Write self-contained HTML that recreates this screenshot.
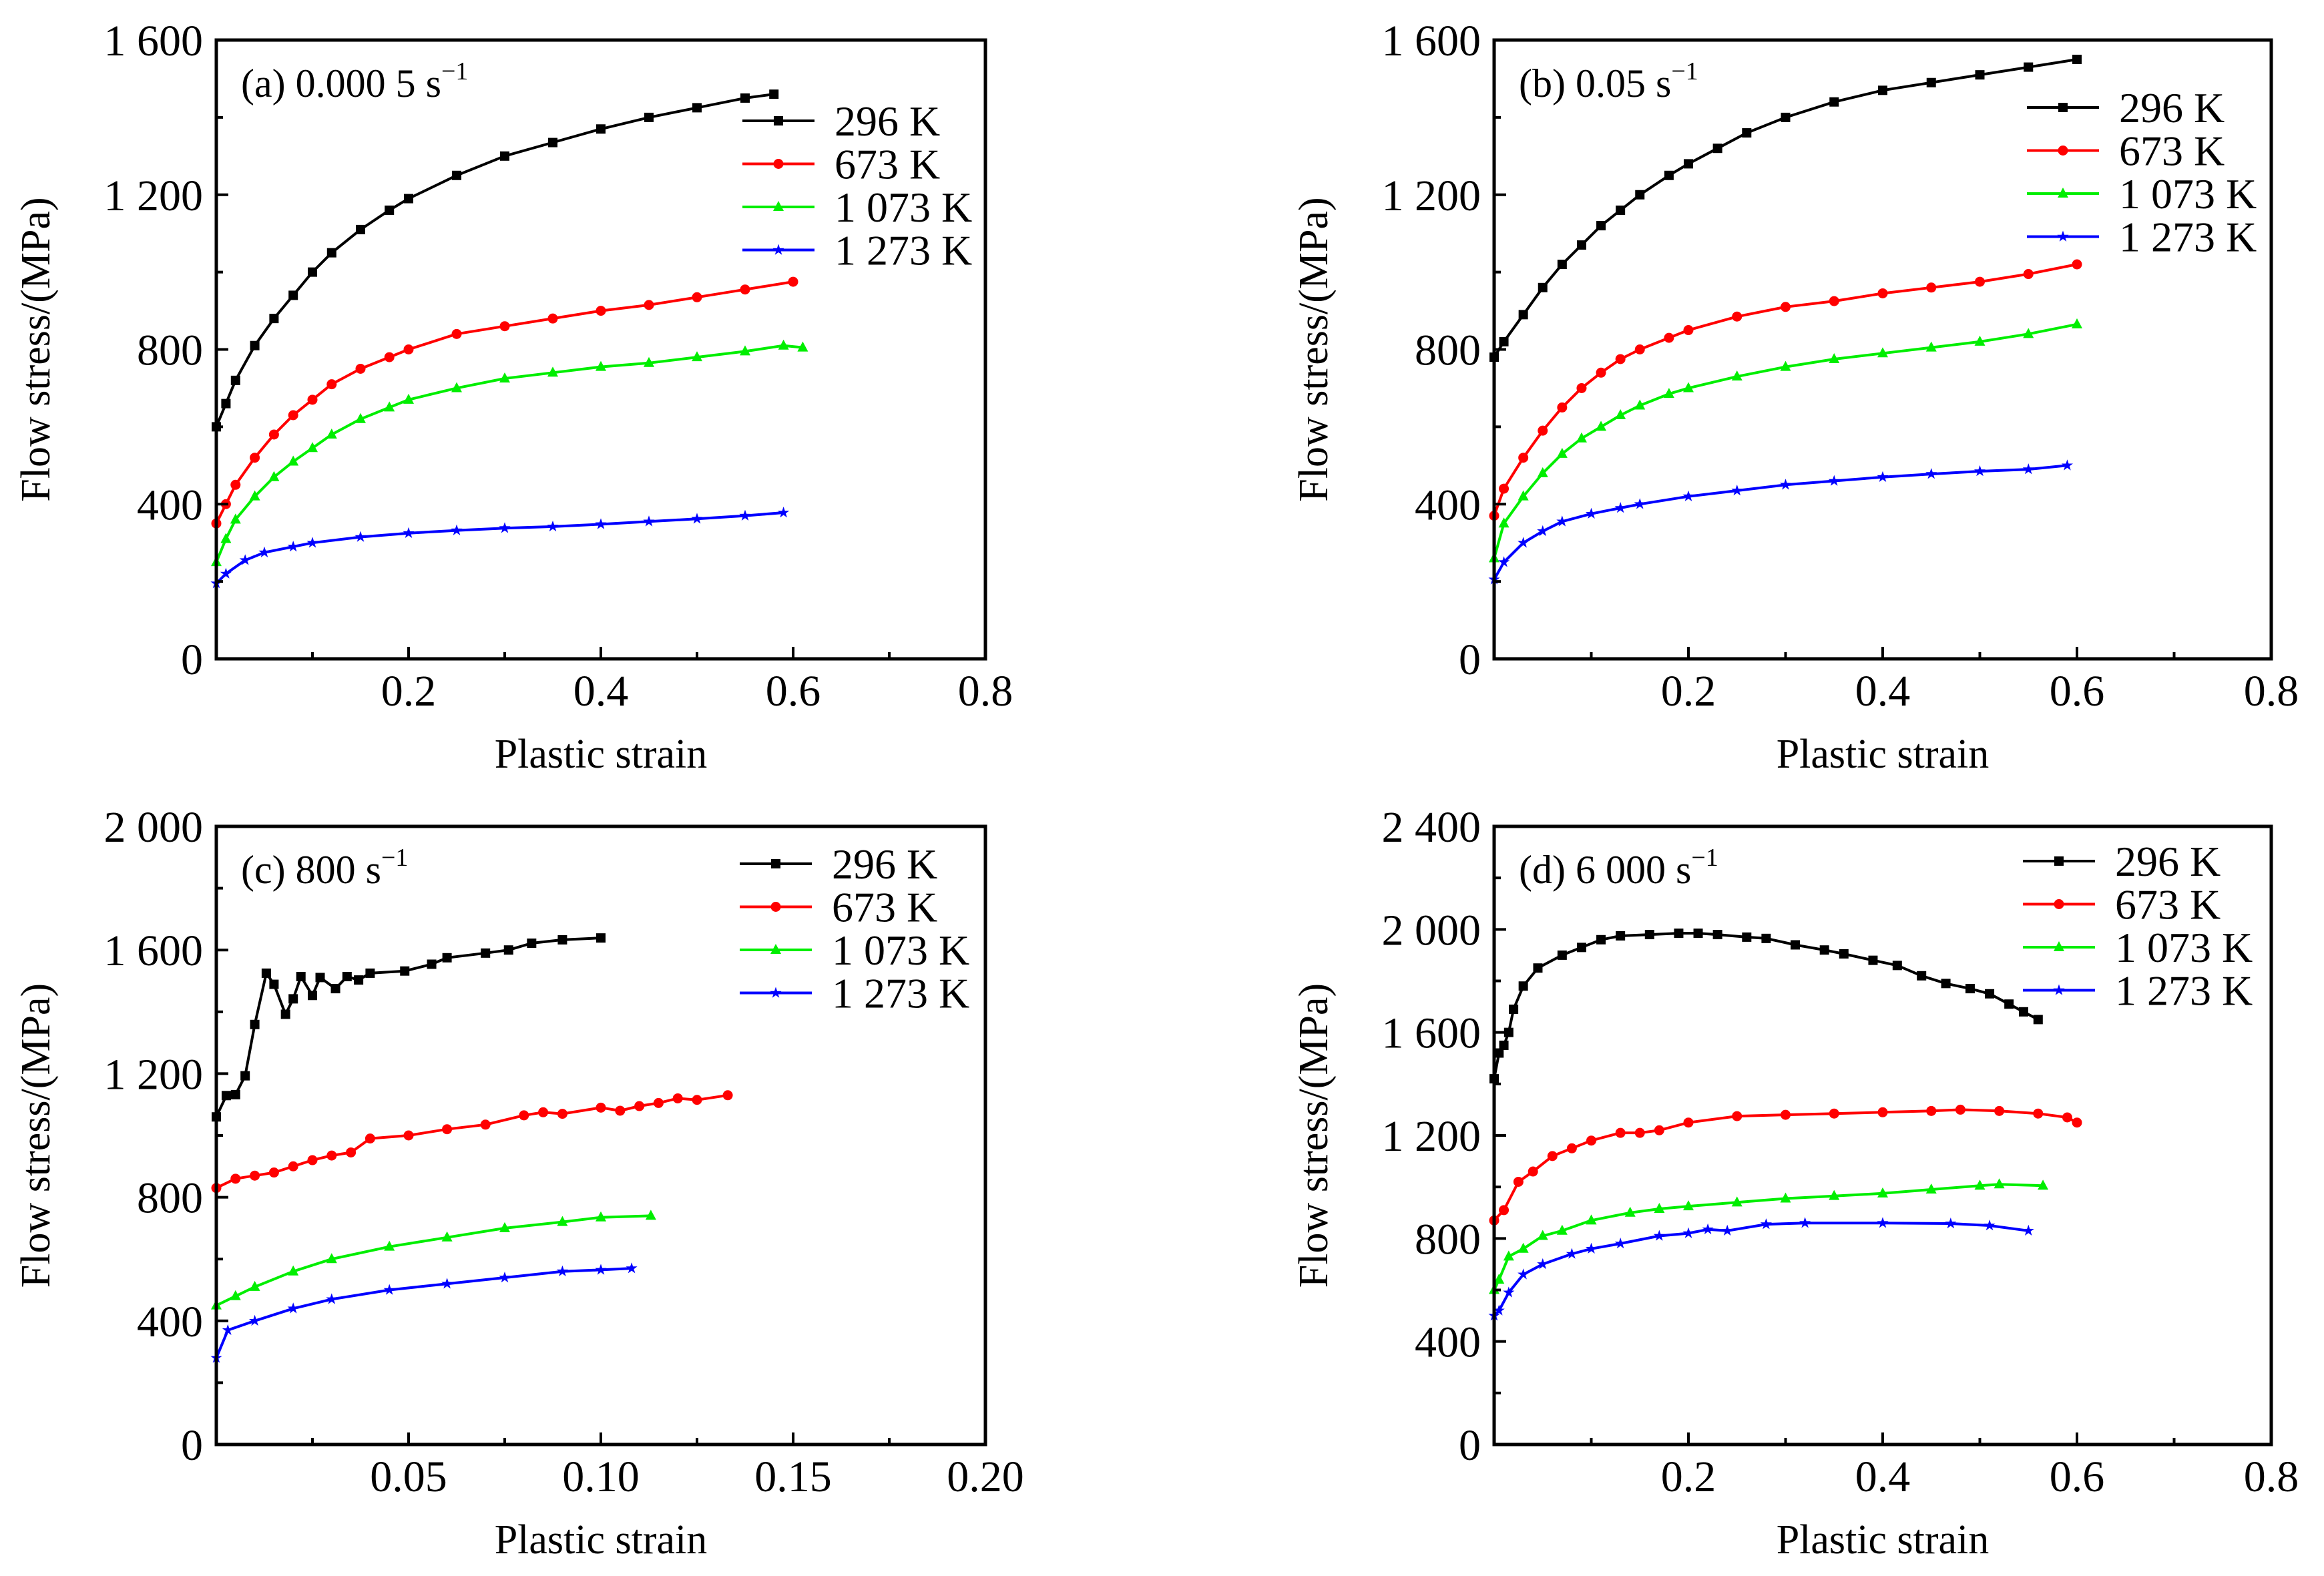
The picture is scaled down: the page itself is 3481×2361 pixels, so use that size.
<!DOCTYPE html>
<html><head><meta charset="utf-8"><style>
html,body{margin:0;padding:0;background:#fff;}
svg{display:block;font-family:"Liberation Serif",serif;}
</style></head><body>
<svg id="fig" width="3481" height="2361" viewBox="0 0 3481 2361" xmlns="http://www.w3.org/2000/svg"></svg>
<script>
// ---- Data ----
const temps = ["296 K","673 K","1 073 K","1 273 K"];
// Panel (a) 0.0005 s^-1
const aX0 = [0,0.01,0.02,0.04,0.06,0.08,0.10,0.12,0.15,0.18,0.20,0.25,0.30,0.35,0.40,0.45,0.50,0.55,0.58];
const aY0 = [600,660,720,810,880,940,1000,1050,1110,1160,1190,1250,1300,1335,1370,1400,1425,1450,1460];
const aX1 = [0,0.01,0.02,0.04,0.06,0.08,0.10,0.12,0.15,0.18,0.20,0.25,0.30,0.35,0.40,0.45,0.50,0.55,0.60];
const aY1 = [350,400,450,520,580,630,670,710,750,780,800,840,860,880,900,915,935,955,975];
const aX2 = [0,0.01,0.02,0.04,0.06,0.08,0.10,0.12,0.15,0.18,0.20,0.25,0.30,0.35,0.40,0.45,0.50,0.55,0.59,0.61];
const aY2 = [250,310,360,420,470,510,545,580,620,650,670,700,725,740,755,765,780,795,810,805];
const aX3 = [0,0.01,0.03,0.05,0.08,0.10,0.15,0.20,0.25,0.30,0.35,0.40,0.45,0.50,0.55,0.59];
const aY3 = [195,220,255,275,290,300,315,325,332,338,342,348,355,362,370,378];
// Panel (b) 0.05 s^-1
const bX0 = [0,0.01,0.03,0.05,0.07,0.09,0.11,0.13,0.15,0.18,0.20,0.23,0.26,0.30,0.35,0.40,0.45,0.50,0.55,0.60];
const bY0 = [780,820,890,960,1020,1070,1120,1160,1200,1250,1280,1320,1360,1400,1440,1470,1490,1510,1530,1550];
const bX1 = [0,0.01,0.03,0.05,0.07,0.09,0.11,0.13,0.15,0.18,0.20,0.25,0.30,0.35,0.40,0.45,0.50,0.55,0.60];
const bY1 = [370,440,520,590,650,700,740,775,800,830,850,885,910,925,945,960,975,995,1020];
const bX2 = [0,0.01,0.03,0.05,0.07,0.09,0.11,0.13,0.15,0.18,0.20,0.25,0.30,0.35,0.40,0.45,0.50,0.55,0.60];
const bY2 = [260,350,420,480,530,570,600,630,655,685,700,730,755,775,790,805,820,840,865];
const bX3 = [0,0.01,0.03,0.05,0.07,0.10,0.13,0.15,0.20,0.25,0.30,0.35,0.40,0.45,0.50,0.55,0.59];
const bY3 = [205,250,300,330,355,375,390,400,420,435,450,460,470,478,485,490,500];
// Panel (c) 800 s^-1
const cX0 = [0,0.0026,0.005,0.0075,0.01,0.013,0.015,0.018,0.02,0.022,0.025,0.027,0.031,0.034,0.037,0.04,0.049,0.056,0.06,0.07,0.076,0.082,0.09,0.1];
const cY0 = [1060,1129,1132,1193,1359,1525,1489,1392,1442,1514,1453,1511,1475,1514,1503,1525,1532,1554,1575,1590,1600,1622,1633,1639];
const cX1 = [0,0.005,0.01,0.015,0.02,0.025,0.03,0.035,0.04,0.05,0.06,0.07,0.08,0.085,0.09,0.1,0.105,0.11,0.115,0.12,0.125,0.133];
const cY1 = [830,860,870,880,900,920,935,945,990,1000,1020,1035,1065,1075,1070,1090,1080,1095,1105,1120,1115,1130];
const cX2 = [0,0.005,0.01,0.02,0.03,0.045,0.06,0.075,0.09,0.1,0.113];
const cY2 = [450,480,510,560,600,640,670,700,720,735,740];
const cX3 = [0,0.003,0.01,0.02,0.03,0.045,0.06,0.075,0.09,0.1,0.108];
const cY3 = [280,370,400,440,470,500,520,540,560,565,570];
// Panel (d) 6000 s^-1
const dX0 = [0,0.005,0.01,0.015,0.02,0.03,0.045,0.07,0.09,0.11,0.13,0.16,0.19,0.21,0.23,0.26,0.28,0.31,0.34,0.36,0.39,0.415,0.44,0.465,0.49,0.51,0.53,0.545,0.56];
const dY0 = [1420,1520,1550,1600,1690,1780,1850,1900,1930,1960,1975,1980,1985,1985,1980,1970,1965,1940,1920,1905,1880,1860,1820,1790,1770,1750,1710,1680,1650];
const dX1 = [0,0.01,0.025,0.04,0.06,0.08,0.1,0.13,0.15,0.17,0.2,0.25,0.3,0.35,0.4,0.45,0.48,0.52,0.56,0.59,0.6];
const dY1 = [870,910,1020,1060,1120,1150,1180,1210,1210,1220,1250,1275,1280,1285,1290,1295,1300,1295,1285,1270,1250];
const dX2 = [0,0.005,0.015,0.03,0.05,0.07,0.1,0.14,0.17,0.2,0.25,0.3,0.35,0.4,0.45,0.5,0.52,0.565];
const dY2 = [600,640,730,760,810,830,870,900,915,925,940,955,965,975,990,1005,1010,1005];
const dX3 = [0,0.005,0.015,0.03,0.05,0.08,0.1,0.13,0.17,0.2,0.22,0.24,0.28,0.32,0.4,0.47,0.51,0.55];
const dY3 = [500,520,590,660,700,740,760,780,810,820,835,830,855,860,860,858,850,830];

const xTicksA = [0.2,0.4,0.6,0.8];
const xTickLabelsA = ["0.2","0.4","0.6","0.8"];
const xTicksC = [0.05,0.10,0.15,0.20];
const xTickLabelsC = ["0.05","0.10","0.15","0.20"];
const yTicks1600 = [0,400,800,1200,1600];
const yLabels1600 = ["0","400","800","1 200","1 600"];
const yTicks2000 = [0,400,800,1200,1600,2000];
const yLabels2000 = ["0","400","800","1 200","1 600","2 000"];
const yTicks2400 = [0,400,800,1200,1600,2000,2400];
const yLabels2400 = ["0","400","800","1 200","1 600","2 000","2 400"];

const colors = ["#000000","#ff0000","#00ee00","#0000ff"];
const markers = ["square","circle","triangle","star"];

const NS = "http://www.w3.org/2000/svg";
const svg = document.getElementById("fig");
function mk(tag, attrs, parent){
  const e = document.createElementNS(NS, tag);
  for (const k in attrs) e.setAttribute(k, attrs[k]);
  (parent||svg).appendChild(e);
  return e;
}
function marker(g, type, x, y, c){
  let e;
  if (type==="square") e = mk("rect",{x:x-7,y:y-7,width:14,height:14,fill:c},g);
  else if (type==="circle") e = mk("circle",{cx:x,cy:y,r:7.5,fill:c},g);
  else if (type==="triangle") e = mk("polygon",{points:`${x},${y-9} ${x-8},${y+6} ${x+8},${y+6}`,fill:c},g);
  else {
    let p=[];
    for(let i=0;i<10;i++){const r=i%2?3.5:9;const a=-Math.PI/2+i*Math.PI/5;p.push((x+r*Math.cos(a)).toFixed(1)+","+(y+r*Math.sin(a)).toFixed(1));}
    e = mk("polygon",{points:p.join(" "),fill:c},g);
  }
  
  
}

function panel(opt){
  const g = mk("g",{});
  
  
  const L=opt.l,R=opt.r,T=opt.t,B=opt.b;
  const sx = v => L + v/opt.xmax*(R-L);
  const sy = v => B - v/opt.ymax*(B-T);
  // series
  opt.series.forEach((s,i)=>{
    const sg = mk("g",{},g);
    
    
    const pts = s[0].map((xv,j)=>sx(xv).toFixed(1)+","+sy(s[1][j]).toFixed(1)).join(" ");
    const pl = mk("polyline",{points:pts,fill:"none",stroke:colors[i],"stroke-width":4,"stroke-linejoin":"round"},sg);
    
    
    s[0].forEach((xv,j)=>marker(sg,markers[i],sx(xv),sy(s[1][j]),colors[i]));
  });
  // frame
  const fr = mk("rect",{x:L,y:T,width:R-L,height:B-T,fill:"none",stroke:"#000","stroke-width":5},g);
  
  
  // x ticks
  const xg = mk("g",{},g);
  
  
  opt.xt.forEach((v,i)=>{
    mk("line",{x1:sx(v),x2:sx(v),y1:B,y2:B-18,stroke:"#000","stroke-width":4},xg);
    const mv = v - opt.xt[0]/2;
    mk("line",{x1:sx(mv),x2:sx(mv),y1:B,y2:B-10,stroke:"#000","stroke-width":4},xg);
    const t = mk("text",{x:sx(v),y:B+70,"font-size":66,"text-anchor":"middle"},xg);
    t.textContent = opt.xl[i];
    
    
  });
  const xt = mk("text",{x:(L+R)/2,y:B+163,"font-size":62,"text-anchor":"middle"},g);
  xt.textContent = "Plastic strain";
  
  
  // y ticks
  const yg = mk("g",{},g);
  
  
  opt.yt.forEach((v,i)=>{
    mk("line",{x1:L,x2:L+18,y1:sy(v),y2:sy(v),stroke:"#000","stroke-width":4},yg);
    if (i>0) mk("line",{x1:L,x2:L+10,y1:sy(v-200),y2:sy(v-200),stroke:"#000","stroke-width":4},yg);
    const t = mk("text",{x:L-20,y:sy(v)+23,"font-size":66,"text-anchor":"end"},yg);
    t.textContent = opt.yl[i];
    
    
  });
  const yx = L-250, yy=(T+B)/2;
  const ytt = mk("text",{x:yx,y:yy,"font-size":62,"text-anchor":"middle",transform:`rotate(-90 ${yx} ${yy})`},g);
  ytt.textContent = "Flow stress/(MPa)";
  
  
  // panel label
  const pl = mk("text",{x:L+37,y:T+85,"font-size":60},g);
  
  
  pl.appendChild(document.createTextNode(opt.label));
  const sup = mk("tspan",{"font-size":38,dy:-26},pl);
  sup.textContent = "\u22121";
  // legend
  const lg = mk("g",{},g);
  
  
  temps.forEach((tt,i)=>{
    const y = opt.ly + i*64.5;
    const eg = mk("g",{},lg);
    
    
    mk("line",{x1:opt.lx,x2:opt.lx+108,y1:y,y2:y,stroke:colors[i],"stroke-width":4},eg);
    marker(eg,markers[i],opt.lx+54,y,colors[i]);
    const t = mk("text",{x:opt.lx+138,y:y+22,"font-size":64},eg);
    t.textContent = tt;
  });
}

panel({name:"panel-a",l:324,r:1476,t:60,b:987,xmax:0.8,ymax:1600,xt:xTicksA,xl:xTickLabelsA,yt:yTicks1600,yl:yLabels1600,
  label:"(a) 0.000 5 s",lx:1112,ly:181,series:[[aX0,aY0],[aX1,aY1],[aX2,aY2],[aX3,aY3]]});
panel({name:"panel-b",l:2238,r:3402,t:60,b:987,xmax:0.8,ymax:1600,xt:xTicksA,xl:xTickLabelsA,yt:yTicks1600,yl:yLabels1600,
  label:"(b) 0.05 s",lx:3036,ly:161,series:[[bX0,bY0],[bX1,bY1],[bX2,bY2],[bX3,bY3]]});
panel({name:"panel-c",l:324,r:1476,t:1238,b:2164,xmax:0.2,ymax:2000,xt:xTicksC,xl:xTickLabelsC,yt:yTicks2000,yl:yLabels2000,
  label:"(c) 800 s",lx:1108,ly:1294,series:[[cX0,cY0],[cX1,cY1],[cX2,cY2],[cX3,cY3]]});
panel({name:"panel-d",l:2238,r:3402,t:1238,b:2164,xmax:0.8,ymax:2400,xt:xTicksA,xl:xTickLabelsA,yt:yTicks2400,yl:yLabels2400,
  label:"(d) 6 000 s",lx:3030,ly:1290,series:[[dX0,dY0],[dX1,dY1],[dX2,dY2],[dX3,dY3]]});
</script>
</body></html>
